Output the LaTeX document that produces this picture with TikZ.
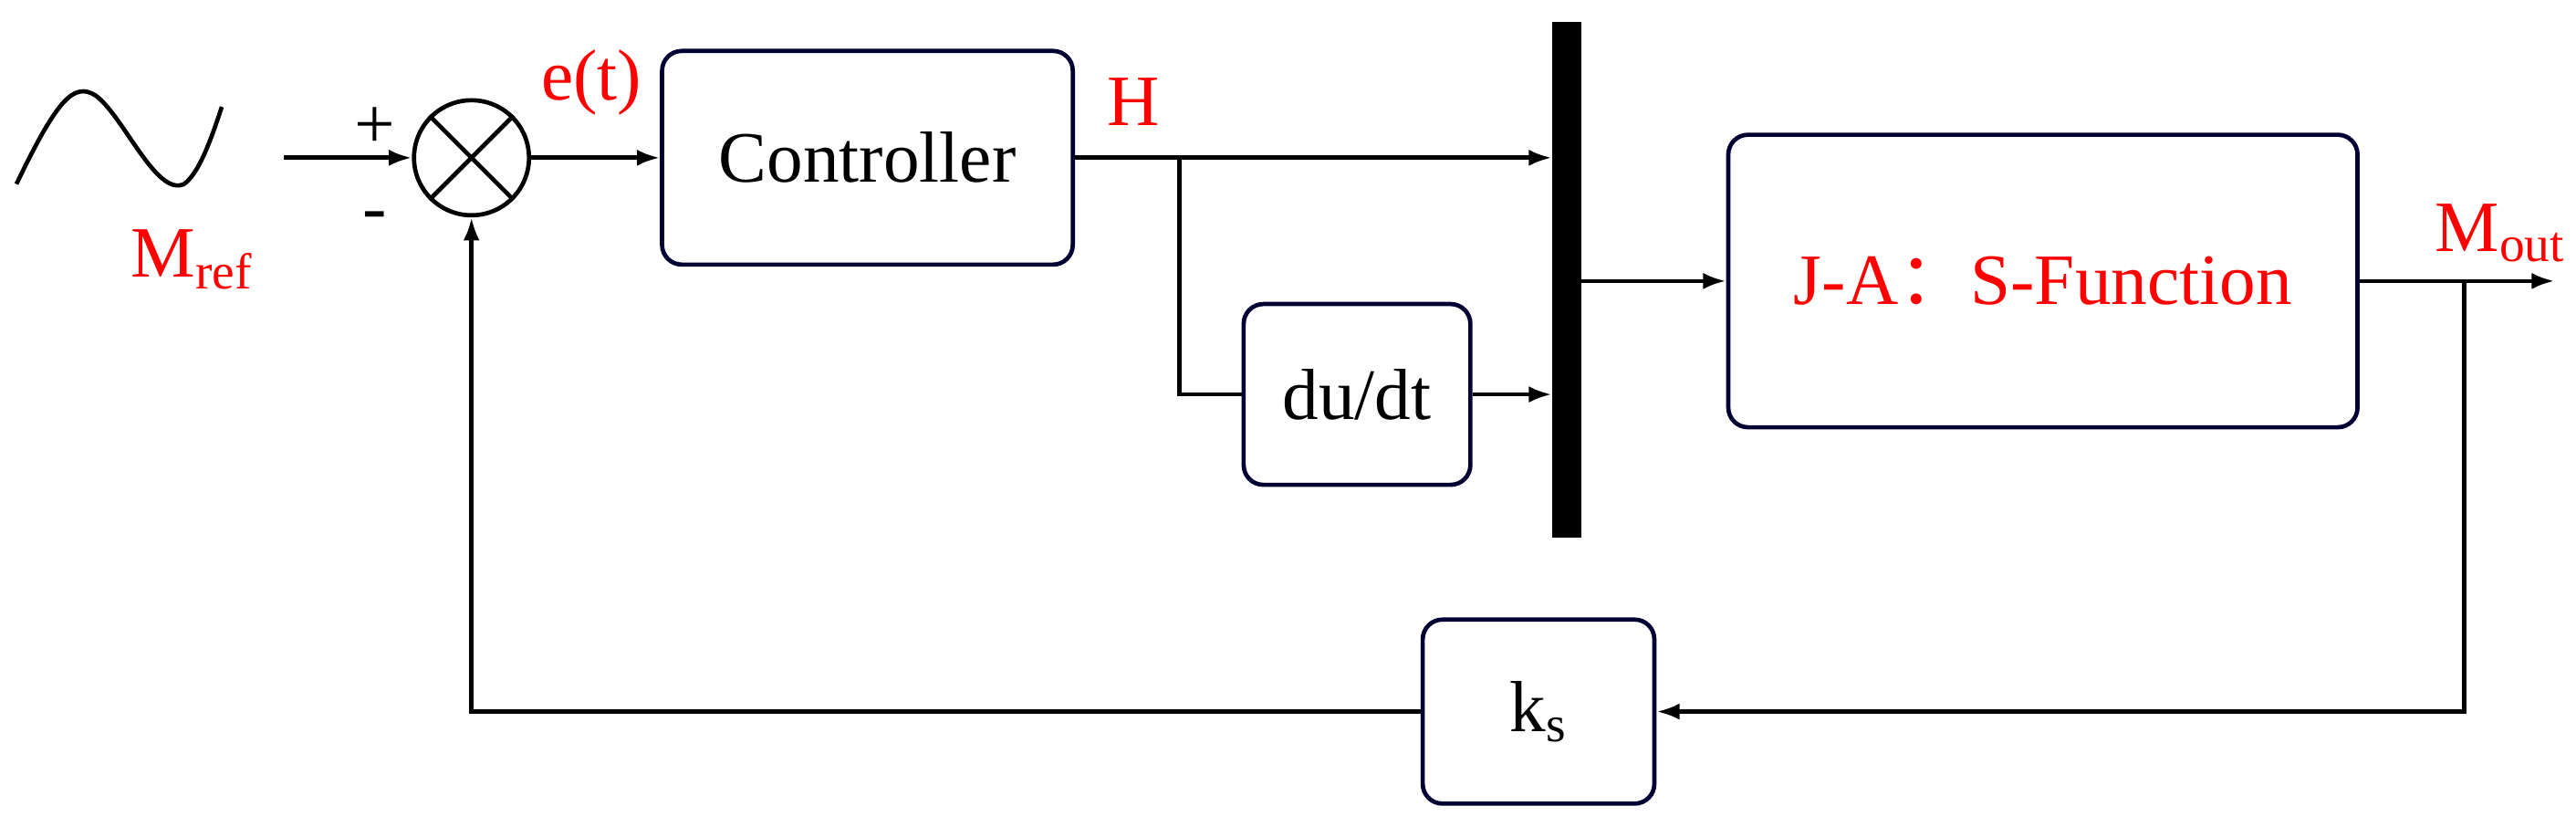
\documentclass[tikz,border=0pt]{standalone}
\usepackage{fontspec}
\setmainfont{Liberation Serif}
\newfontfamily\cjkf{Noto Sans CJK SC}
\usetikzlibrary{arrows.meta}
\begin{document}
\begin{tikzpicture}[x=0.5pt,y=-0.5pt,
  blk/.style={draw=black!80!blue,line width=1.3pt,rounded corners=6pt},
  ln/.style={line width=1.3pt},
  ar/.style={ln,-{Latex[length=7pt,width=5pt]}},
  lbl/.style={font=\fontsize{22}{24}\selectfont},
  rlbl/.style={lbl,text=red}]
\useasboundingbox (0,0) rectangle (1568,503);
\draw[ln] (10,112) .. controls (35,60) and (45,50) .. (58,58) .. controls (75,70) and (95,120) .. (112,112) .. controls (122,105) and (130,80) .. (135,65);
\node[rlbl] (mref) at (117,158) {M\textsubscript{ref}};
\coordinate (in) at (173,96);
\node[circle,draw,ln,inner sep=0pt,minimum size=35pt] (sum) at (287,96) {};
\draw[ln] (sum.north west) -- (sum.south east) (sum.north east) -- (sum.south west);
\draw[ar] (in) -- (sum.west);
\node[lbl] at (228,78) {+};
\node[lbl] at (228,135) {-};
\node[blk,minimum width=125pt,minimum height=65pt,lbl] (ctrl) at (528,96) {Controller};
\draw[ar] (sum.east) -- (ctrl.west);
\node[rlbl] at (360,50) {e(t)};
\node[rlbl] at (690,62) {H};
\node[draw,fill=black,minimum width=8.5pt,minimum height=156.5pt,inner sep=0pt] (mux) at (953.5,170.5) {};
\coordinate (br) at (718,96);
\draw[ar] (ctrl.east) -- (ctrl.east -| mux.west);
\node[blk,minimum width=69pt,minimum height=55pt,lbl] (du) at (826,240) {du/dt};
\draw[ln] (br) |- (du.west);
\draw[ar] (du.east) -- (du.east -| mux.west);
\node[blk,minimum width=191.5pt,minimum height=89pt] (ja) at (1243.5,171) {};
\node[rlbl] at (ja) {J-A{\cjkf ：}S-Function};
\draw[ar] (mux.east |- ja.west) -- (ja.west);
\coordinate (out) at (1555,171);
\draw[ar] (ja.east) -- (out);
\node[rlbl] at (1522,142) {M\textsubscript{out}};
\coordinate (br2) at (1500,171);
\node[blk,minimum width=70.5pt,minimum height=56pt,lbl] (ks) at (936.5,433) {k\textsubscript{s}};
\draw[ar] (br2) |- (ks.east);
\draw[ar] (ks.west) -| (sum.south);
\end{tikzpicture}
\end{document}
